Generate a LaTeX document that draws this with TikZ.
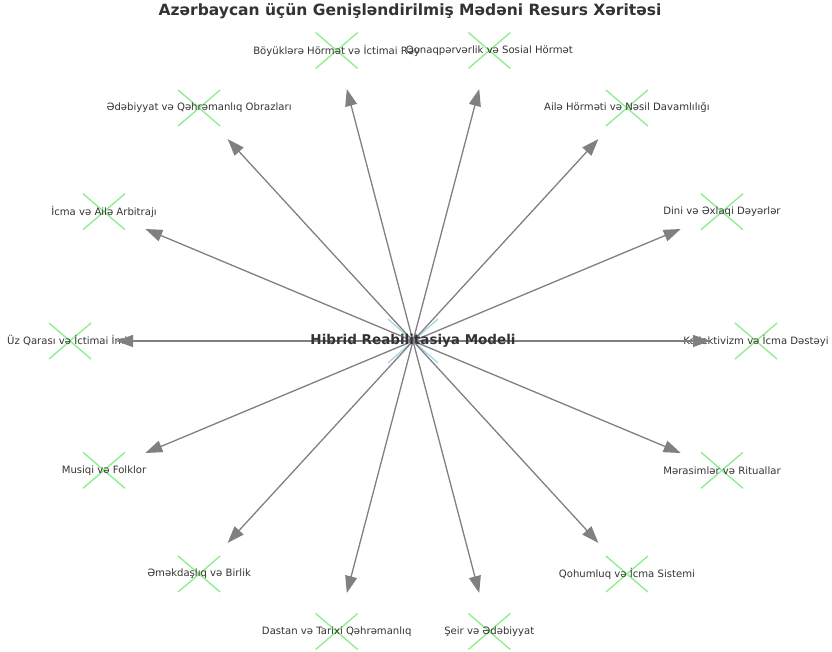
\documentclass[tikz,border=0pt]{standalone}
\usepackage{fontspec}
\setmainfont{DejaVu Sans}
\usetikzlibrary{arrows.meta}
\definecolor{arrgray}{HTML}{808080}
\definecolor{txt}{HTML}{333333}
\definecolor{mkgreen}{HTML}{90EE90}
\definecolor{mkblue}{HTML}{ADD8E6}
\tikzset{
  lbl/.style={text=txt, font=\fontsize{10.1}{12}\selectfont, inner sep=0pt},
  centerlbl/.style={text=txt, font=\fontsize{13.5}{15}\selectfont\bfseries, inner sep=0pt},
  titlelbl/.style={text=txt, font=\fontsize{15.5}{17}\selectfont\bfseries, inner sep=0pt},
  arr/.style={draw=arrgray, line width=1.3pt, -{Triangle[length=17pt,width=12pt]}},
  gx/.style={draw=mkgreen, line width=1.4pt},
  bx/.style={draw=mkblue, line width=1.4pt}
}
\newcommand{\gmark}[1]{\draw[gx] ([shift={(-21,-18)}]#1) -- ([shift={(21,18)}]#1) ([shift={(-21,18)}]#1) -- ([shift={(21,-18)}]#1);}
\begin{document}
\begin{tikzpicture}[x=1pt,y=-1pt]
\useasboundingbox (0,0) rectangle (832,652);
\coordinate (c) at (413,341);
\coordinate (n1) at (336.7,50.5);
\coordinate (n2) at (489.3,50.5);
\coordinate (n3) at (199.1,108);
\coordinate (n4) at (626.9,108);
\coordinate (n5) at (104,211.7);
\coordinate (n6) at (722,211.7);
\coordinate (n7) at (70,341);
\coordinate (n8) at (756,341);
\coordinate (n9) at (104,470.3);
\coordinate (n10) at (722,470.3);
\coordinate (n11) at (199.1,574);
\coordinate (n12) at (626.9,574);
\coordinate (n13) at (336.7,631.5);
\coordinate (n14) at (489.3,631.5);
% markers
\draw[bx] ([shift={(-25,-22)}]c) -- ([shift={(25,22)}]c) ([shift={(-25,22)}]c) -- ([shift={(25,-22)}]c);
\foreach \n in {n1,n2,n3,n4,n5,n6,n7,n8,n9,n10,n11,n12,n13,n14}{\gmark{\n}}
% labels
\node[lbl] (l1) at (n1) {Böyüklərə Hörmət və İctimai Rəy};
\node[lbl] (l2) at (n2) {Qonaqpərvərlik və Sosial Hörmət};
\node[lbl] (l3) at (n3) {Ədəbiyyat və Qəhrəmanlıq Obrazları};
\node[lbl] (l4) at (n4) {Ailə Hörməti və Nəsil Davamlılığı};
\node[lbl] (l5) at (n5) {İcma və Ailə Arbitrajı};
\node[lbl] (l6) at (n6) {Dini və Əxlaqi Dəyərlər};
\node[lbl] (l7) at (n7) {Üz Qarası və İctimai İmic};
\node[lbl] (l8) at (n8) {Kollektivizm və İcma Dəstəyi};
\node[lbl] (l9) at (n9) {Musiqi və Folklor};
\node[lbl] (l10) at (n10) {Mərasimlər və Rituallar};
\node[lbl] (l11) at (n11) {Əməkdaşlıq və Birlik};
\node[lbl] (l12) at (n12) {Qohumluq və İcma Sistemi};
\node[lbl] (l13) at (n13) {Dastan və Tarixi Qəhrəmanlıq};
\node[lbl] (l14) at (n14) {Şeir və Ədəbiyyat};
% arrows
\foreach \n/\s in {n1/39.8,n2/39.8,n3/42.2,n4/42.2,n5/44.8,n6/44.8,n7/46,n8/46,n9/44.8,n10/44.8,n11/42.2,n12/42.2,n13/39.8,n14/39.8}{\draw[arr, shorten >=\s pt] (c) -- (\n);}
\node[centerlbl] (cl) at (c) {Hibrid Reabilitasiya Modeli};
\node[titlelbl] (title) at (410,11) {Azərbaycan üçün Genişləndirilmiş Mədəni Resurs Xəritəsi};
\end{tikzpicture}
\end{document}
